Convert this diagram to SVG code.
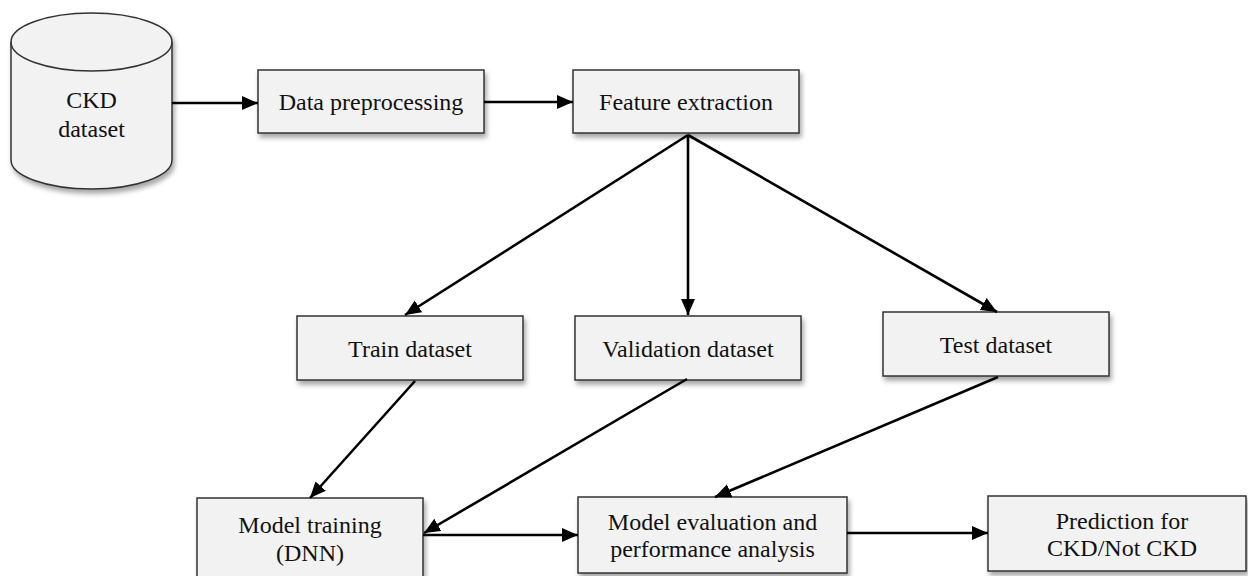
<svg xmlns="http://www.w3.org/2000/svg" width="1248" height="576" viewBox="0 0 1248 576">
<style>
.box{fill:#f2f2f2;stroke:#333;stroke-width:1.5;filter:url(#sh);}
.lbl{font-family:"Liberation Serif","Times New Roman",serif;font-size:24px;fill:#111;text-anchor:middle;}
.con line{stroke:#000;stroke-width:2.6;marker-end:url(#ah);}
</style>
<defs>
<filter id="sh" x="-10%" y="-10%" width="130%" height="140%">
<feDropShadow dx="2" dy="4" stdDeviation="2.5" flood-color="#000" flood-opacity="0.35"/>
</filter>
<marker id="ah" markerUnits="userSpaceOnUse" markerWidth="18" markerHeight="16" refX="16" refY="7" orient="auto">
<path d="M0,0 L16,7 L0,14 z" fill="#000"/>
</marker>
</defs>
<rect width="1248" height="576" fill="#fff"/>
<g id="ckd-dataset">
<path class="box" d="M11,42 L11,160 A80.5,29 0 0 0 172,160 L172,42 A80.5,29 0 0 0 11,42 Z"/>
<path d="M11,42 A80.5,29 0 0 0 172,42" fill="none" stroke="#333" stroke-width="1.5"/>
<text class="lbl" x="91.5" y="108">CKD</text>
<text class="lbl" x="91.5" y="137">dataset</text>
</g>
<g id="data-preprocessing">
<rect class="box" x="258" y="70" width="226" height="63"/>
<text class="lbl" x="371" y="110">Data preprocessing</text>
</g>
<g id="feature-extraction">
<rect class="box" x="573" y="70" width="226" height="63"/>
<text class="lbl" x="686" y="110">Feature extraction</text>
</g>
<g id="train-dataset">
<rect class="box" x="297" y="316" width="226" height="64"/>
<text class="lbl" x="410" y="357">Train dataset</text>
</g>
<g id="validation-dataset">
<rect class="box" x="575" y="316" width="226" height="64"/>
<text class="lbl" x="688" y="357">Validation dataset</text>
</g>
<g id="test-dataset">
<rect class="box" x="883" y="312" width="226" height="64"/>
<text class="lbl" x="996" y="353">Test dataset</text>
</g>
<g id="model-training">
<rect class="box" x="197" y="498" width="226" height="90"/>
<text class="lbl" x="310" y="533">Model training</text>
<text class="lbl" x="310" y="561">(DNN)</text>
</g>
<g id="model-evaluation">
<rect class="box" x="578" y="497" width="269" height="76"/>
<text class="lbl" x="712.5" y="530">Model evaluation and</text>
<text class="lbl" x="712.5" y="557">performance analysis</text>
</g>
<g id="prediction">
<rect class="box" x="988" y="496" width="258" height="75"/>
<text class="lbl" x="1122" y="529">Prediction for</text>
<text class="lbl" x="1122" y="556">CKD/Not CKD</text>
</g>
<g id="connectors" class="con">
<line x1="172" y1="103" x2="258" y2="103"/>
<line x1="484" y1="102" x2="573" y2="102"/>
<line x1="688" y1="135" x2="405" y2="315"/>
<line x1="688" y1="135" x2="688" y2="315"/>
<line x1="688" y1="135" x2="997" y2="312"/>
<line x1="415" y1="381" x2="310" y2="498"/>
<line x1="687" y1="379" x2="424" y2="533"/>
<line x1="998" y1="377" x2="715" y2="497"/>
<line x1="423" y1="535" x2="578" y2="535"/>
<line x1="847" y1="533" x2="988" y2="533"/>
</g>
</svg>
